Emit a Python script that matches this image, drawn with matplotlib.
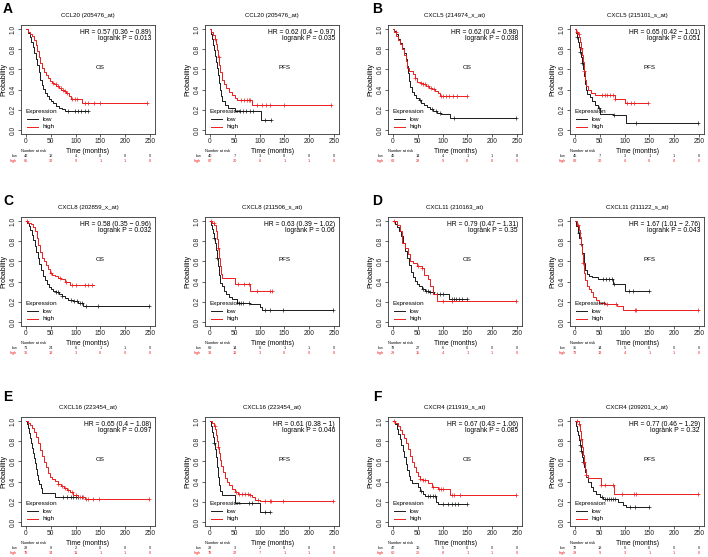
import numpy as np
import matplotlib
matplotlib.use("Agg")
import matplotlib.pyplot as plt
from matplotlib.transforms import blended_transform_factory
from matplotlib.lines import Line2D

plt.rcParams['font.family'] = ['Liberation Sans', 'DejaVu Sans']

# ---------------- data ----------------
panel_letters = ["A", "B", "C", "D", "E", "F"]
titles = ["CCL20 (205476_at)", "CCL20 (205476_at)",
          "CXCL5 (214974_x_at)", "CXCL5 (215101_s_at)",
          "CXCL8 (202859_x_at)", "CXCL8 (211506_s_at)",
          "CXCL11 (210163_at)", "CXCL11 (211122_s_at)",
          "CXCL16 (223454_at)", "CXCL16 (223454_at)",
          "CXCR4 (211919_s_at)", "CXCR4 (209201_x_at)"]
endpoints = ["OS", "PFS"] * 6
hr_texts = ["HR = 0.57 (0.36 \u2212 0.89)", "HR = 0.62 (0.4 \u2212 0.97)",
            "HR = 0.62 (0.4 \u2212 0.98)", "HR = 0.65 (0.42 \u2212 1.01)",
            "HR = 0.58 (0.35 \u2212 0.96)", "HR = 0.63 (0.39 \u2212 1.02)",
            "HR = 0.79 (0.47 \u2212 1.31)", "HR = 1.67 (1.01 \u2212 2.76)",
            "HR = 0.65 (0.4 \u2212 1.08)", "HR = 0.61 (0.38 \u2212 1)",
            "HR = 0.67 (0.43 \u2212 1.06)", "HR = 0.77 (0.46 \u2212 1.29)"]
p_texts = ["logrank P = 0.013", "logrank P = 0.035",
           "logrank P = 0.038", "logrank P = 0.051",
           "logrank P = 0.032", "logrank P = 0.06",
           "logrank P = 0.35", "logrank P = 0.043",
           "logrank P = 0.097", "logrank P = 0.046",
           "logrank P = 0.085", "logrank P = 0.32"]
risk_times = [0, 50, 100, 150, 200, 250]
risk_low = [[42, 12, 4, 0, 0, 0], [40, 7, 3, 0, 0, 0],
            [45, 14, 4, 1, 1, 0], [45, 7, 3, 1, 1, 0],
            [71, 24, 6, 1, 1, 0], [69, 14, 6, 1, 1, 0],
            [78, 27, 6, 0, 0, 0], [35, 14, 5, 0, 0, 0],
            [28, 8, 2, 0, 0, 0], [28, 3, 2, 0, 0, 0],
            [47, 16, 5, 0, 0, 0], [78, 18, 6, 0, 0, 0]]
risk_high = [[65, 30, 9, 1, 1, 0], [67, 20, 6, 1, 1, 0],
             [62, 28, 9, 0, 0, 0], [62, 20, 6, 0, 0, 0],
             [36, 18, 3, 0, 0, 0], [38, 12, 3, 0, 0, 0],
             [29, 15, 4, 1, 1, 0], [72, 13, 4, 1, 1, 0],
             [79, 34, 11, 1, 1, 0], [79, 22, 7, 1, 1, 0],
             [60, 26, 8, 1, 1, 0], [29, 9, 3, 1, 1, 0]]

# Kaplan-Meier step points (time, survival) and censor times
A_OS_low_t = [0, 4, 8, 11, 14, 17, 20, 23, 26, 29, 32, 35, 38, 42, 46, 50, 55, 60, 66, 72, 78, 125]
A_OS_low_s = [1.0, 0.96, 0.92, 0.87, 0.82, 0.76, 0.70, 0.64, 0.57, 0.50, 0.45, 0.41, 0.37, 0.34, 0.31, 0.29, 0.27, 0.24, 0.22, 0.21, 0.19, 0.19]
A_OS_low_c = [85, 98, 105, 111, 118, 125]
A_OS_high_t = [0, 4, 8, 13, 17, 20, 23, 26, 29, 32, 36, 40, 44, 48, 52, 56, 61, 66, 71, 76, 81, 86, 91, 112, 243]
A_OS_high_s = [1.0, 0.97, 0.95, 0.93, 0.89, 0.84, 0.78, 0.72, 0.66, 0.61, 0.57, 0.54, 0.51, 0.49, 0.47, 0.46, 0.44, 0.42, 0.40, 0.39, 0.37, 0.34, 0.31, 0.27, 0.27]
A_OS_high_c = [55, 60, 64, 70, 74, 78, 82, 93, 98, 103, 118, 126, 138, 150, 243]

A_PFS_low_t = [0, 2, 4, 6, 8, 10, 12, 14, 16, 18, 20, 22, 25, 30, 36, 50, 103, 122]
A_PFS_low_s = [1.0, 0.95, 0.90, 0.84, 0.79, 0.73, 0.67, 0.61, 0.54, 0.47, 0.40, 0.34, 0.29, 0.25, 0.22, 0.19, 0.10, 0.10]
A_PFS_low_c = [60, 67, 73, 80, 87, 111, 122]
A_PFS_high_t = [0, 3, 7, 10, 13, 15, 17, 19, 21, 24, 28, 33, 38, 44, 50, 55, 84, 243]
A_PFS_high_s = [1.0, 0.97, 0.94, 0.90, 0.85, 0.79, 0.72, 0.64, 0.57, 0.50, 0.46, 0.42, 0.38, 0.35, 0.32, 0.30, 0.25, 0.25]
A_PFS_high_c = [10, 18, 62, 68, 74, 78, 81, 94, 105, 112, 120, 150, 243]

B_OS_low_t = [0, 3, 7, 11, 15, 19, 23, 26, 29, 31, 33, 35, 38, 42, 47, 52, 57, 62, 68, 74, 80, 88, 96, 114, 247]
B_OS_low_s = [1.0, 0.98, 0.95, 0.90, 0.86, 0.81, 0.76, 0.70, 0.63, 0.56, 0.49, 0.43, 0.38, 0.35, 0.32, 0.30, 0.27, 0.25, 0.23, 0.21, 0.19, 0.17, 0.16, 0.12, 0.12]
B_OS_low_c = [55, 78, 86, 95, 123, 247]
B_OS_high_t = [0, 3, 7, 11, 15, 19, 23, 26, 29, 33, 40, 45, 49, 54, 60, 66, 72, 78, 84, 90, 94, 150]
B_OS_high_s = [1.0, 0.97, 0.93, 0.89, 0.85, 0.80, 0.74, 0.68, 0.61, 0.58, 0.55, 0.51, 0.48, 0.47, 0.46, 0.44, 0.42, 0.41, 0.39, 0.37, 0.34, 0.34]
B_OS_high_c = [6, 45, 56, 60, 64, 70, 76, 82, 96, 100, 106, 112, 120, 130, 150]

B_PFS_low_t = [0, 2, 4, 6, 8, 10, 12, 14, 16, 18, 20, 22, 25, 30, 35, 40, 46, 50, 77, 103, 248]
B_PFS_low_s = [1.0, 0.96, 0.92, 0.87, 0.82, 0.77, 0.72, 0.66, 0.60, 0.53, 0.46, 0.40, 0.36, 0.33, 0.29, 0.25, 0.22, 0.16, 0.15, 0.07, 0.07]
B_PFS_low_c = [5, 10, 14, 48, 78, 122, 248]
B_PFS_high_t = [0, 3, 6, 9, 11, 13, 15, 17, 19, 21, 23, 26, 32, 40, 80, 100, 148]
B_PFS_high_s = [1.0, 0.97, 0.95, 0.92, 0.87, 0.81, 0.74, 0.67, 0.58, 0.50, 0.44, 0.40, 0.37, 0.35, 0.31, 0.27, 0.27]
B_PFS_high_c = [4, 8, 13, 19, 55, 60, 64, 70, 76, 80, 105, 112, 118, 148]

C_OS_low_t = [0, 3, 6, 9, 12, 15, 18, 21, 24, 27, 30, 34, 38, 42, 46, 50, 55, 60, 66, 72, 78, 85, 95, 105, 115, 247]
C_OS_low_s = [1.0, 0.98, 0.95, 0.91, 0.86, 0.81, 0.75, 0.69, 0.63, 0.57, 0.51, 0.46, 0.42, 0.38, 0.35, 0.33, 0.31, 0.30, 0.28, 0.26, 0.24, 0.22, 0.21, 0.19, 0.16, 0.16]
C_OS_low_c = [60, 65, 72, 90, 96, 102, 108, 112, 120, 145, 247]
C_OS_high_t = [0, 5, 10, 14, 18, 22, 25, 28, 32, 36, 40, 44, 48, 53, 58, 64, 70, 78, 88, 138]
C_OS_high_s = [1.0, 0.98, 0.97, 0.94, 0.90, 0.83, 0.76, 0.69, 0.63, 0.60, 0.56, 0.52, 0.49, 0.47, 0.46, 0.44, 0.43, 0.40, 0.37, 0.37]
C_OS_high_c = [2, 50, 68, 80, 93, 100, 118, 125, 133]

C_PFS_low_t = [0, 2, 4, 6, 8, 10, 12, 14, 16, 18, 20, 24, 28, 32, 38, 45, 54, 80, 101, 104, 248]
C_PFS_low_s = [1.0, 0.96, 0.92, 0.88, 0.83, 0.78, 0.71, 0.63, 0.55, 0.47, 0.39, 0.36, 0.31, 0.28, 0.25, 0.23, 0.19, 0.18, 0.15, 0.12, 0.12]
C_PFS_low_c = [8, 15, 58, 62, 67, 78, 110, 120, 147, 248]
C_PFS_high_t = [0, 5, 9, 12, 14, 16, 18, 20, 22, 24, 50, 80, 125]
C_PFS_high_s = [1.0, 0.98, 0.96, 0.90, 0.82, 0.73, 0.63, 0.55, 0.48, 0.44, 0.38, 0.31, 0.31]
C_PFS_high_c = [2, 8, 17, 56, 68, 79, 95, 120, 125]

D_OS_low_t = [0, 4, 8, 12, 16, 20, 24, 28, 32, 36, 40, 44, 48, 52, 58, 64, 72, 83, 113, 150]
D_OS_low_s = [1.0, 0.97, 0.94, 0.90, 0.85, 0.78, 0.70, 0.63, 0.56, 0.50, 0.45, 0.41, 0.38, 0.36, 0.33, 0.31, 0.30, 0.28, 0.23, 0.23]
D_OS_low_c = [60, 66, 70, 75, 80, 88, 95, 100, 118, 122, 128, 133, 140, 150]
D_OS_high_t = [0, 8, 15, 19, 25, 30, 34, 40, 49, 58, 62, 70, 75, 80, 88, 247]
D_OS_high_s = [1.0, 0.96, 0.90, 0.78, 0.73, 0.67, 0.60, 0.58, 0.55, 0.53, 0.47, 0.43, 0.36, 0.28, 0.21, 0.21]
D_OS_high_c = [3, 50, 58, 100, 118, 247]

D_PFS_low_t = [0, 3, 6, 9, 12, 15, 18, 21, 24, 28, 35, 47, 77, 100, 150]
D_PFS_low_s = [1.0, 0.95, 0.88, 0.83, 0.77, 0.68, 0.58, 0.51, 0.48, 0.46, 0.45, 0.43, 0.38, 0.31, 0.31]
D_PFS_low_c = [8, 12, 56, 62, 68, 74, 78, 108, 116, 150]
D_PFS_high_t = [0, 4, 8, 11, 13, 15, 17, 19, 21, 24, 28, 32, 37, 42, 48, 60, 84, 97, 248]
D_PFS_high_s = [1.0, 0.96, 0.91, 0.84, 0.76, 0.67, 0.58, 0.49, 0.42, 0.36, 0.33, 0.30, 0.25, 0.22, 0.19, 0.18, 0.16, 0.12, 0.12]
D_PFS_high_c = [6, 17, 58, 65, 82, 120, 122, 248]

E_OS_low_t = [0, 3, 5, 7, 9, 11, 13, 15, 17, 19, 21, 23, 25, 27, 30, 33, 58, 112]
E_OS_low_s = [1.0, 0.97, 0.93, 0.88, 0.83, 0.78, 0.73, 0.68, 0.63, 0.58, 0.52, 0.47, 0.42, 0.38, 0.34, 0.29, 0.25, 0.25]
E_OS_low_c = [75, 82, 90, 95, 100, 105, 112]
E_OS_high_t = [0, 4, 8, 12, 16, 20, 24, 28, 32, 36, 40, 44, 48, 52, 58, 64, 70, 76, 82, 88, 95, 105, 119, 248]
E_OS_high_s = [1.0, 0.98, 0.96, 0.93, 0.89, 0.84, 0.78, 0.71, 0.65, 0.59, 0.54, 0.49, 0.45, 0.43, 0.41, 0.38, 0.36, 0.34, 0.32, 0.30, 0.27, 0.25, 0.23, 0.23]
E_OS_high_c = [65, 72, 78, 85, 92, 100, 108, 115, 120, 125, 135, 148, 248]

E_PFS_low_t = [0, 2, 4, 6, 8, 10, 12, 14, 16, 18, 21, 25, 50, 101, 121]
E_PFS_low_s = [1.0, 0.95, 0.89, 0.84, 0.78, 0.72, 0.64, 0.54, 0.45, 0.37, 0.31, 0.27, 0.19, 0.10, 0.10]
E_PFS_low_c = [8, 78, 85, 110, 121]
E_PFS_high_t = [0, 4, 8, 11, 13, 15, 17, 19, 21, 23, 26, 30, 34, 38, 44, 50, 56, 80, 84, 91, 101, 248]
E_PFS_high_s = [1.0, 0.98, 0.95, 0.92, 0.86, 0.80, 0.74, 0.68, 0.61, 0.55, 0.50, 0.44, 0.40, 0.37, 0.33, 0.30, 0.28, 0.27, 0.25, 0.22, 0.21, 0.21]
E_PFS_high_c = [10, 17, 52, 58, 64, 70, 76, 80, 96, 110, 120, 122, 147, 248]

F_OS_low_t = [0, 4, 8, 11, 14, 17, 20, 23, 26, 29, 32, 35, 38, 51, 55, 60, 64, 87, 91, 150]
F_OS_low_s = [1.0, 0.97, 0.92, 0.87, 0.82, 0.76, 0.70, 0.64, 0.57, 0.51, 0.46, 0.42, 0.39, 0.35, 0.31, 0.28, 0.26, 0.20, 0.18, 0.18]
F_OS_low_c = [56, 70, 75, 80, 84, 100, 110, 118, 124, 132, 150]
F_OS_high_t = [0, 5, 10, 14, 18, 22, 26, 30, 34, 38, 42, 46, 50, 55, 60, 70, 78, 90, 114, 247]
F_OS_high_s = [1.0, 0.98, 0.95, 0.91, 0.87, 0.83, 0.78, 0.72, 0.65, 0.59, 0.54, 0.50, 0.46, 0.43, 0.42, 0.39, 0.35, 0.33, 0.27, 0.27]
F_OS_high_c = [3, 55, 60, 64, 80, 92, 96, 100, 118, 122, 135, 247]

F_PFS_low_t = [0, 2, 4, 6, 8, 10, 12, 14, 16, 18, 20, 23, 27, 32, 37, 43, 50, 57, 87, 97, 103, 150]
F_PFS_low_s = [1.0, 0.95, 0.90, 0.86, 0.81, 0.76, 0.70, 0.64, 0.59, 0.54, 0.50, 0.45, 0.40, 0.35, 0.31, 0.28, 0.25, 0.23, 0.20, 0.17, 0.15, 0.15]
F_PFS_low_c = [10, 13, 17, 55, 60, 64, 68, 72, 76, 80, 110, 120, 150]
F_PFS_high_t = [0, 8, 10, 12, 14, 16, 18, 20, 22, 27, 52, 79, 247]
F_PFS_high_s = [1.0, 0.97, 0.90, 0.82, 0.74, 0.66, 0.59, 0.52, 0.47, 0.44, 0.37, 0.28, 0.28]
F_PFS_high_c = [4, 8, 13, 18, 22, 52, 60, 76, 95, 118, 122, 247]

curves_low = [(A_OS_low_t, A_OS_low_s, A_OS_low_c), (A_PFS_low_t, A_PFS_low_s, A_PFS_low_c),
              (B_OS_low_t, B_OS_low_s, B_OS_low_c), (B_PFS_low_t, B_PFS_low_s, B_PFS_low_c),
              (C_OS_low_t, C_OS_low_s, C_OS_low_c), (C_PFS_low_t, C_PFS_low_s, C_PFS_low_c),
              (D_OS_low_t, D_OS_low_s, D_OS_low_c), (D_PFS_low_t, D_PFS_low_s, D_PFS_low_c),
              (E_OS_low_t, E_OS_low_s, E_OS_low_c), (E_PFS_low_t, E_PFS_low_s, E_PFS_low_c),
              (F_OS_low_t, F_OS_low_s, F_OS_low_c), (F_PFS_low_t, F_PFS_low_s, F_PFS_low_c)]
curves_high = [(A_OS_high_t, A_OS_high_s, A_OS_high_c), (A_PFS_high_t, A_PFS_high_s, A_PFS_high_c),
               (B_OS_high_t, B_OS_high_s, B_OS_high_c), (B_PFS_high_t, B_PFS_high_s, B_PFS_high_c),
               (C_OS_high_t, C_OS_high_s, C_OS_high_c), (C_PFS_high_t, C_PFS_high_s, C_PFS_high_c),
               (D_OS_high_t, D_OS_high_s, D_OS_high_c), (D_PFS_high_t, D_PFS_high_s, D_PFS_high_c),
               (E_OS_high_t, E_OS_high_s, E_OS_high_c), (E_PFS_high_t, E_PFS_high_s, E_PFS_high_c),
               (F_OS_high_t, F_OS_high_s, F_OS_high_c), (F_PFS_high_t, F_PFS_high_s, F_PFS_high_c)]

# ---------------- layout ----------------
W, H = 708, 557
fig = plt.figure(figsize=(W / 100, H / 100), dpi=100)
col_left = [21, 205, 388, 570]
row_top = [25, 217, 417]
box_w, box_h = 134, 109
letter_pos = [(8, 9), (377, 9), (8, 201), (377, 201), (8, 397), (377, 397)]
LOW_C = "#1a1a1a"
HIGH_C = "#ee1c1c"


def fx(x):
    return x / W


def fy(y):
    return 1 - y / H


def surv_at(t, s, c):
    idx = np.searchsorted(np.asarray(t), np.asarray(c), side="right") - 1
    return np.asarray(s)[np.clip(idx, 0, len(s) - 1)]


for i in range(12):
    r, cidx = i // 4, i % 4
    left, top = col_left[cidx], row_top[r]
    ax = fig.add_axes([fx(left), fy(top + box_h), box_w / W, box_h / H])
    for (t, s, c), col in ((curves_low[i], LOW_C), (curves_high[i], HIGH_C)):
        ax.step(t, s, where="post", color=col, lw=0.7)
        ax.plot(c, surv_at(t, s, c), ls="none", marker="+", ms=3, mew=0.5, color=col)
    ax.set_xlim(-10, 260)
    ax.set_ylim(-0.04, 1.04)
    ax.set_xticks([0, 50, 100, 150, 200, 250])
    ax.set_yticks([0, 0.2, 0.4, 0.6, 0.8, 1.0])
    ax.set_yticklabels(["0.0", "0.2", "0.4", "0.6", "0.8", "1.0"])
    ax.tick_params(length=2, width=0.5, pad=1, labelsize=4.8, colors="#222222")
    for lbl in ax.get_yticklabels():
        lbl.set_rotation(90)
        lbl.set_va("center")
    for sp in ax.spines.values():
        sp.set_linewidth(0.6)
        sp.set_color("#333333")
    ax.set_xlabel("Time (months)", fontsize=4.8, labelpad=2)
    ax.set_ylabel("Probability", fontsize=5, labelpad=2)
    ax.set_title(titles[i], fontsize=4.4, pad=5.5)
    ax.text(0.97, 0.965, hr_texts[i], transform=ax.transAxes, ha="right", va="top", fontsize=4.9)
    ax.text(0.97, 0.905, p_texts[i], transform=ax.transAxes, ha="right", va="top", fontsize=4.9)
    ax.text(150, 0.62, endpoints[i], ha="center", va="center", fontsize=4.5)
    # legend (R style, no frame)
    ax.text(0.03, 0.205, "Expression", transform=ax.transAxes, ha="left", va="center", fontsize=4.6)
    for yy, lab, col in ((0.135, "low", LOW_C), (0.065, "high", HIGH_C)):
        ax.add_line(Line2D([0.045, 0.125], [yy, yy], transform=ax.transAxes, color=col, lw=0.7))
        ax.text(0.16, yy, lab, transform=ax.transAxes, ha="left", va="center", fontsize=4.6)
    # number at risk table
    tr = blended_transform_factory(ax.transData, fig.transFigure)
    bottom = top + box_h
    fig.text(fx(left), fy(bottom + 17.5), "Number at risk", fontsize=2.8, ha="left", va="center")
    fig.text(fx(left - 4), fy(bottom + 22), "low", fontsize=2.8, ha="right", va="center", color=LOW_C)
    fig.text(fx(left - 4), fy(bottom + 27), "high", fontsize=2.8, ha="right", va="center", color=HIGH_C)
    for rt, nl, nh in zip(risk_times, risk_low[i], risk_high[i]):
        ax.text(rt, fy(bottom + 22), str(nl), transform=tr, fontsize=2.8, ha="center", va="center",
                color=LOW_C, clip_on=False)
        ax.text(rt, fy(bottom + 27), str(nh), transform=tr, fontsize=2.8, ha="center", va="center",
                color=HIGH_C, clip_on=False)

for letter, (x, y) in zip(panel_letters, letter_pos):
    fig.text(fx(x), fy(y), letter, fontsize=10, fontweight="bold", ha="center", va="center")

fig.savefig("out.png", dpi=100)
